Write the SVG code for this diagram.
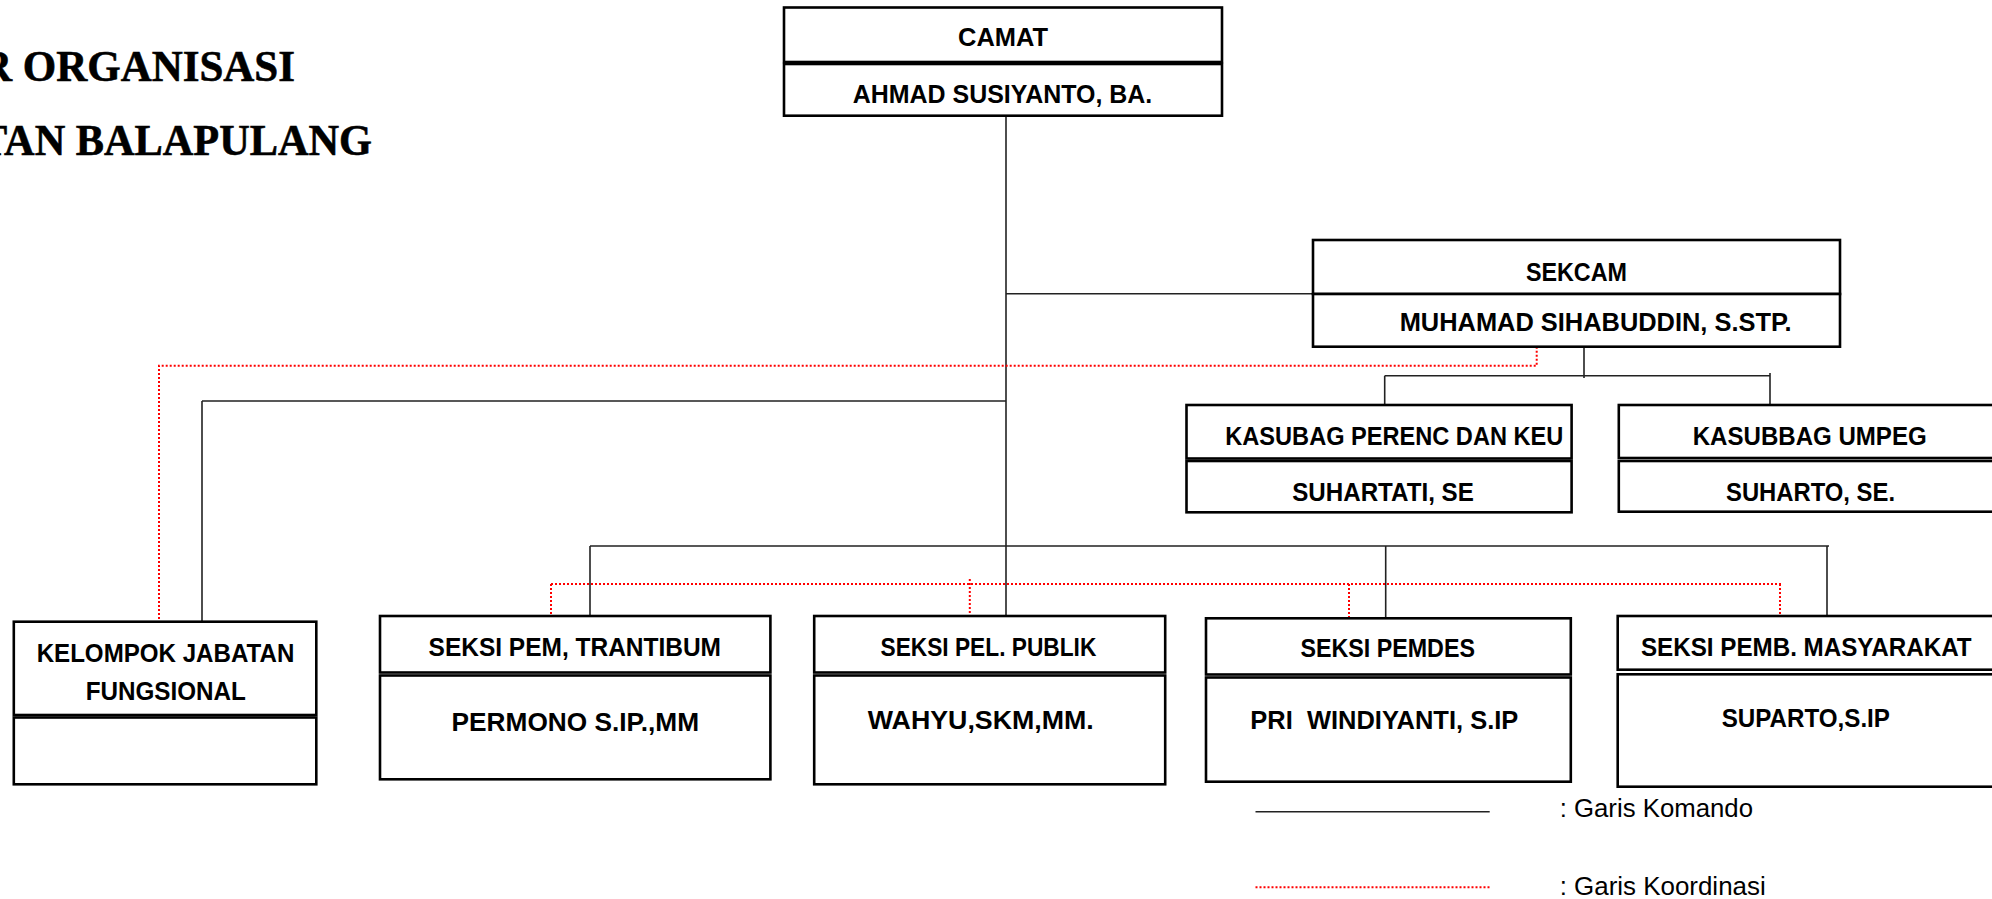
<svg xmlns="http://www.w3.org/2000/svg" width="1992" height="899" viewBox="0 0 1992 899">
<style>
.bx{fill:#fff;stroke:#000;stroke-width:2.6}
.t{font-family:"Liberation Sans",Arial,sans-serif;font-weight:bold;font-size:25px;fill:#000;text-anchor:middle}
.lg{font-family:"Liberation Sans",Arial,sans-serif;font-size:25px;fill:#000}
.ttl{font-family:"Liberation Serif","Times New Roman",serif;font-weight:bold;font-size:45px;fill:#000;stroke:#000;stroke-width:0.6}
.k{fill:none;stroke:#222;stroke-width:1.6}
.r{fill:none;stroke:#ff0000;stroke-width:2;stroke-dasharray:2 2}
</style>
<rect x="0" y="0" width="1992" height="899" fill="#fff"/>
<g id="title">
<text class="ttl" x="-19" y="80.7" textLength="314" lengthAdjust="spacingAndGlyphs">R ORGANISASI</text>
<text class="ttl" x="-21" y="155" textLength="393" lengthAdjust="spacingAndGlyphs">TAN BALAPULANG</text>
</g>
<g id="connectors">
<path class="k" d="M1006,115.7V616M1006,293.7H1313M202,401H1006M202,401V621.7M590,546H1829M590,546V616M1385.7,546V618.3M1827,546V616M1584,346.7V378M1384.7,375.7H1770.3M1384.7,375.7V405M1770,373V405"/>
<path class="r" d="M1536.7,346.7V365.7H159V621.7M551,584H1782M551,584V616M969.8,579V616M1349,584V618.3M1780,584V616"/>
</g>
<g id="camat">
<rect class="bx" x="784" y="7.5" width="438" height="54.5"/>
<rect class="bx" x="784" y="64" width="438" height="51.7"/>
<text class="t" x="1003" y="46.3" textLength="90" lengthAdjust="spacingAndGlyphs">CAMAT</text>
<text class="t" x="1002.5" y="103" textLength="299.5" lengthAdjust="spacingAndGlyphs">AHMAD SUSIYANTO, BA.</text>
</g>
<g id="sekcam">
<rect class="bx" x="1313" y="240" width="527" height="54"/>
<rect class="bx" x="1313" y="294" width="527" height="52.7"/>
<text class="t" x="1576.4" y="280.7" textLength="101" lengthAdjust="spacingAndGlyphs">SEKCAM</text>
<text class="t" x="1595.7" y="330.7" textLength="392" lengthAdjust="spacingAndGlyphs">MUHAMAD SIHABUDDIN, S.STP.</text>
</g>
<g id="kasubag-perenc">
<rect class="bx" x="1186.5" y="405" width="385.1" height="53.5"/>
<rect class="bx" x="1186.5" y="461" width="385.1" height="51.3"/>
<text class="t" x="1394.3" y="445" textLength="338" lengthAdjust="spacingAndGlyphs">KASUBAG PERENC DAN KEU</text>
<text class="t" x="1383" y="500.7" textLength="181.5" lengthAdjust="spacingAndGlyphs">SUHARTATI, SE</text>
</g>
<g id="kasubbag-umpeg">
<rect class="bx" x="1618.8" y="405" width="390" height="53"/>
<rect class="bx" x="1618.8" y="461" width="390" height="50.7"/>
<text class="t" x="1809.7" y="445" textLength="234" lengthAdjust="spacingAndGlyphs">KASUBBAG UMPEG</text>
<text class="t" x="1810.5" y="500.7" textLength="169" lengthAdjust="spacingAndGlyphs">SUHARTO, SE.</text>
</g>
<g id="kelompok">
<rect class="bx" x="13.8" y="621.7" width="302.5" height="93.3"/>
<rect class="bx" x="13.8" y="717.5" width="302.5" height="66.8"/>
<text class="t" x="165.5" y="661.7" textLength="257.7" lengthAdjust="spacingAndGlyphs">KELOMPOK JABATAN</text>
<text class="t" x="165.8" y="700" textLength="160.2" lengthAdjust="spacingAndGlyphs">FUNGSIONAL</text>
</g>
<g id="seksi-pem">
<rect class="bx" x="380" y="616" width="390.4" height="56.5"/>
<rect class="bx" x="380" y="675.5" width="390.4" height="103.8"/>
<text class="t" x="574.8" y="656" textLength="292.4" lengthAdjust="spacingAndGlyphs">SEKSI PEM, TRANTIBUM</text>
<text class="t" x="575.3" y="730.7" textLength="247.5" lengthAdjust="spacingAndGlyphs">PERMONO S.IP.,MM</text>
</g>
<g id="seksi-pel">
<rect class="bx" x="814.2" y="616" width="351" height="56.5"/>
<rect class="bx" x="814.2" y="675.5" width="351" height="108.8"/>
<text class="t" x="988.4" y="656" textLength="215.8" lengthAdjust="spacingAndGlyphs">SEKSI PEL. PUBLIK</text>
<text class="t" x="980.8" y="729.3" textLength="226" lengthAdjust="spacingAndGlyphs">WAHYU,SKM,MM.</text>
</g>
<g id="seksi-pemdes">
<rect class="bx" x="1206" y="618.3" width="364.8" height="56.2"/>
<rect class="bx" x="1206" y="677.5" width="364.8" height="104.2"/>
<text class="t" x="1387.7" y="656.7" textLength="174.5" lengthAdjust="spacingAndGlyphs">SEKSI PEMDES</text>
<text class="t" x="1384.3" y="729.3" textLength="268" lengthAdjust="spacingAndGlyphs" xml:space="preserve">PRI  WINDIYANTI, S.IP</text>
</g>
<g id="seksi-pemb">
<rect class="bx" x="1617.7" y="616" width="390" height="53.7"/>
<rect class="bx" x="1617.7" y="674.3" width="390" height="112.4"/>
<text class="t" x="1806.3" y="656" textLength="330.7" lengthAdjust="spacingAndGlyphs">SEKSI PEMB. MASYARAKAT</text>
<text class="t" x="1805.8" y="727.3" textLength="168.3" lengthAdjust="spacingAndGlyphs">SUPARTO,S.IP</text>
</g>
<g id="legend">
<line class="k" x1="1255.5" y1="811.7" x2="1489.7" y2="811.7"/>
<line class="r" x1="1255.5" y1="887.3" x2="1489.7" y2="887.3"/>
<text class="lg" x="1559.7" y="816.7" textLength="193.3" lengthAdjust="spacingAndGlyphs">: Garis Komando</text>
<text class="lg" x="1559.7" y="895" textLength="206" lengthAdjust="spacingAndGlyphs">: Garis Koordinasi</text>
</g>
</svg>
